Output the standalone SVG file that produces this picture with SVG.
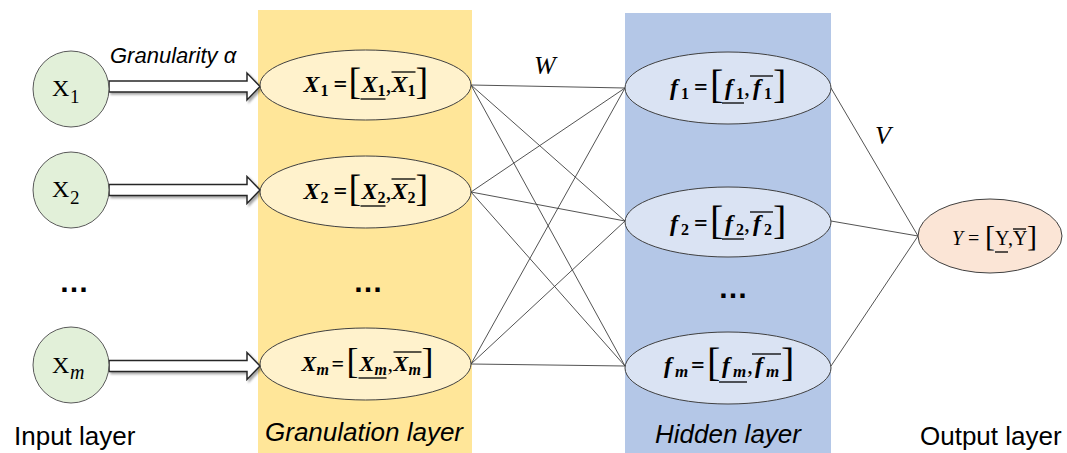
<svg xmlns="http://www.w3.org/2000/svg" width="1067" height="453" viewBox="0 0 1067 453">
<defs>
<style>
.band-y{fill:#ffe699}
.band-b{fill:#b4c7e7}
.in{fill:#e2f0d9;stroke:#595959;stroke-width:1}
.gr{fill:#fff2cc;stroke:#404040;stroke-width:1}
.hd{fill:#dae3f3;stroke:#404040;stroke-width:1}
.out{fill:#fbe5d6;stroke:#404040;stroke-width:1}
.arrow{fill:#fff;stroke:#262626;stroke-width:1.5;filter:url(#sh)}
.conn line{stroke:#404040;stroke-width:0.9}
.math{font-family:"Liberation Serif",serif;font-weight:bold;font-style:italic;fill:#000}
.up{font-style:normal}
.br{font-style:normal;font-weight:normal}
.sub{font-size:16px;font-style:normal}
.bar{stroke:#000;stroke-width:1.3}
.cx{font-family:"Liberation Serif",serif;fill:#000}
.lbl{font-family:"Liberation Sans",Arial,sans-serif;font-size:26px;fill:#000}
.it{font-style:italic}
.dots{font-family:"Liberation Sans",Arial,sans-serif;font-size:30px;font-weight:bold;fill:#000}
</style>
<filter id="sh" x="-10%" y="-50%" width="130%" height="200%"><feDropShadow dx="2" dy="2" stdDeviation="1.2" flood-color="#000" flood-opacity="0.35"/></filter>
</defs>

<rect class="band-y" x="258" y="10" width="214" height="443"/>
<rect class="band-b" x="625" y="13" width="206" height="440"/>

<g id="connectors" class="conn">
<line x1="471" y1="85" x2="625" y2="88"/>
<line x1="471" y1="85" x2="625" y2="221"/>
<line x1="471" y1="85" x2="625" y2="366"/>
<line x1="471" y1="192" x2="625" y2="88"/>
<line x1="471" y1="192" x2="625" y2="221"/>
<line x1="471" y1="192" x2="625" y2="366"/>
<line x1="471" y1="364" x2="625" y2="88"/>
<line x1="471" y1="364" x2="625" y2="221"/>
<line x1="471" y1="364" x2="625" y2="366"/>
<line x1="831" y1="88" x2="918" y2="236"/>
<line x1="831" y1="221" x2="918" y2="236"/>
<line x1="831" y1="366" x2="918" y2="236"/>
</g>

<g id="arrows">
<path class="arrow" transform="translate(109,86.5)" d="M0,-5.5 H138 V-13.5 L151,0 L138,13.5 V5.5 H0 Z"/>
<path class="arrow" transform="translate(109,190)" d="M0,-5.5 H138 V-13.5 L151,0 L138,13.5 V5.5 H0 Z"/>
<path class="arrow" transform="translate(109,366)" d="M0,-5.5 H138 V-13.5 L151,0 L138,13.5 V5.5 H0 Z"/>
</g>

<g id="in1">
<circle class="in" cx="71" cy="89" r="38"/>
<text class="cx" font-size="24"><tspan x="52" y="96">X</tspan><tspan x="70" y="103" font-size="19">1</tspan></text>
</g>
<g id="in2">
<circle class="in" cx="71" cy="190" r="38"/>
<text class="cx" font-size="24"><tspan x="52" y="197">X</tspan><tspan x="70" y="204" font-size="19">2</tspan></text>
</g>
<g id="inm">
<circle class="in" cx="71" cy="365" r="38"/>
<text class="cx" font-size="24"><tspan x="52" y="373">X</tspan><tspan x="70" y="379" font-size="20" font-style="italic">m</tspan></text>
</g>

<g id="g1" transform="translate(365.5,85)">
<ellipse class="gr" rx="105.5" ry="35"/>
<text class="math" font-size="24"><tspan x="-62" y="7">X</tspan><tspan class="sub" x="-45" y="11">1</tspan><tspan class="up" x="-32" y="7">=</tspan><tspan class="br" x="-17" y="9" font-size="38">[</tspan><tspan x="-4" y="7">X</tspan><tspan class="sub" x="12" y="11">1</tspan><tspan class="br" x="20" y="7">,</tspan><tspan x="26" y="7">X</tspan><tspan class="sub" x="42" y="11">1</tspan><tspan class="br" x="50" y="9" font-size="38">]</tspan></text>
<line class="bar" x1="-5" y1="14" x2="20" y2="14"/>
<line class="bar" x1="26" y1="-13" x2="50" y2="-13"/>
</g>
<g id="g2" transform="translate(365.5,192)">
<ellipse class="gr" rx="105.5" ry="36"/>
<text class="math" font-size="24"><tspan x="-62" y="7">X</tspan><tspan class="sub" x="-45" y="11">2</tspan><tspan class="up" x="-32" y="7">=</tspan><tspan class="br" x="-17" y="9" font-size="38">[</tspan><tspan x="-4" y="7">X</tspan><tspan class="sub" x="12" y="11">2</tspan><tspan class="br" x="20" y="7">,</tspan><tspan x="26" y="7">X</tspan><tspan class="sub" x="42" y="11">2</tspan><tspan class="br" x="50" y="9" font-size="38">]</tspan></text>
<line class="bar" x1="-5" y1="14" x2="20" y2="14"/>
<line class="bar" x1="26" y1="-13" x2="50" y2="-13"/>
</g>
<g id="gm" transform="translate(365.5,364)">
<ellipse class="gr" rx="105.5" ry="36"/>
<text class="math" font-size="22"><tspan x="-64" y="7">X</tspan><tspan x="-49" y="11" font-size="16">m</tspan><tspan class="up" x="-34" y="7">=</tspan><tspan class="br" x="-19" y="9" font-size="36">[</tspan><tspan x="-6" y="7">X</tspan><tspan x="9" y="11" font-size="16">m</tspan><tspan class="br" x="22" y="7">,</tspan><tspan x="28" y="7">X</tspan><tspan x="43" y="11" font-size="16">m</tspan><tspan class="br" x="56" y="9" font-size="36">]</tspan></text>
<line class="bar" x1="-7" y1="14" x2="21" y2="14"/>
<line class="bar" x1="28" y1="-12" x2="56" y2="-12"/>
</g>

<g id="h1" transform="translate(728,88)">
<ellipse class="hd" rx="103" ry="36"/>
<text class="math" font-size="24"><tspan x="-58" y="7">f</tspan><tspan class="sub" x="-47" y="11">1</tspan><tspan class="up" x="-34" y="7">=</tspan><tspan class="br" x="-18" y="10" font-size="40">[</tspan><tspan x="-3" y="7">f</tspan><tspan class="sub" x="8" y="11">1</tspan><tspan class="br" x="16" y="7">,</tspan><tspan x="25" y="7">f</tspan><tspan class="sub" x="36" y="11">1</tspan><tspan class="br" x="45" y="10" font-size="40">]</tspan></text>
<line class="bar" x1="-6" y1="15" x2="16" y2="15"/>
<line class="bar" x1="22" y1="-12" x2="45" y2="-12"/>
</g>
<g id="h2" transform="translate(728,222)">
<ellipse class="hd" rx="103" ry="35"/>
<text class="math" font-size="24"><tspan x="-58" y="9">f</tspan><tspan class="sub" x="-47" y="13">2</tspan><tspan class="up" x="-34" y="9">=</tspan><tspan class="br" x="-18" y="12" font-size="40">[</tspan><tspan x="-3" y="9">f</tspan><tspan class="sub" x="8" y="13">2</tspan><tspan class="br" x="16" y="9">,</tspan><tspan x="25" y="9">f</tspan><tspan class="sub" x="36" y="13">2</tspan><tspan class="br" x="45" y="12" font-size="40">]</tspan></text>
<line class="bar" x1="-6" y1="17" x2="16" y2="17"/>
<line class="bar" x1="22" y1="-10" x2="45" y2="-10"/>
</g>
<g id="hm" transform="translate(728,368)">
<ellipse class="hd" rx="103" ry="36"/>
<text class="math" font-size="24"><tspan x="-64" y="5">f</tspan><tspan x="-53" y="9" font-size="17">m</tspan><tspan class="up" x="-37" y="5">=</tspan><tspan class="br" x="-21" y="8" font-size="40">[</tspan><tspan x="-6" y="5">f</tspan><tspan x="5" y="9" font-size="17">m</tspan><tspan class="br" x="19" y="5">,</tspan><tspan x="27" y="5">f</tspan><tspan x="38" y="9" font-size="17">m</tspan><tspan class="br" x="53" y="8" font-size="40">]</tspan></text>
<line class="bar" x1="-9" y1="14" x2="19" y2="14"/>
<line class="bar" x1="24" y1="-14" x2="53" y2="-14"/>
</g>

<g id="out" transform="translate(990,236)">
<ellipse class="out" rx="72" ry="37"/>
<text class="cx" font-size="20"><tspan x="-38" y="9" font-style="italic">Y</tspan><tspan x="-22" y="9">=</tspan><tspan x="-5" y="10" font-size="30">[</tspan><tspan x="5" y="9">Y</tspan><tspan x="18" y="9">,</tspan><tspan x="23" y="9">Y</tspan><tspan x="37" y="10" font-size="30">]</tspan></text>
<line class="bar" x1="5" y1="16" x2="18" y2="16" stroke-width="1"/>
<line class="bar" x1="23" y1="-7" x2="36" y2="-7" stroke-width="1"/>
</g>

<g id="labels">
<text class="lbl it" x="110" y="63" style="font-size:22px">Granularity α</text>
<text class="cx it" x="534" y="74" font-size="26">W</text>
<text class="cx it" x="875" y="144" font-size="26">V</text>
<text class="dots" x="59" y="292">…</text>
<text class="dots" x="353" y="292">…</text>
<text class="dots" x="718" y="298">…</text>
<text class="lbl" x="14" y="445">Input layer</text>
<text class="lbl it" x="265" y="441">Granulation layer</text>
<text class="lbl it" x="655" y="443">Hidden layer</text>
<text class="lbl" x="920" y="445">Output layer</text>
</g>
</svg>
